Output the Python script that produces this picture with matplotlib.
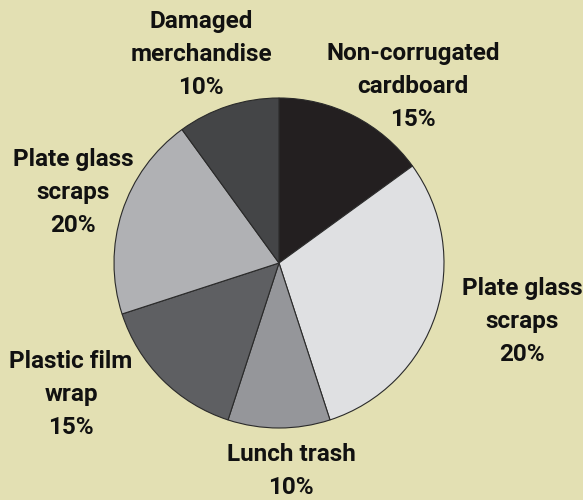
import matplotlib
matplotlib.use('Agg')
import matplotlib.pyplot as plt

# ── Data ─────────────────────────────────────────────────────────────────────
# slice sizes as drawn (the right-hand slice is drawn at ~30% though labelled 20%)
categories = ["Non-corrugated\ncardboard", "Plate glass\nscraps", "Lunch trash",
              "Plastic film\nwrap", "Plate glass\nscraps", "Damaged\nmerchandise"]
sizes = [15, 30, 10, 15, 20, 10]
pct_labels = ["15%", "20%", "10%", "15%", "20%", "10%"]

colors = ["#231F20", "#DFE0E2", "#95969A", "#5E5F62", "#B0B1B4", "#444547"]
BG = "#E3E0B3"

# label anchors (centre x, last-line baseline y) in pixels from top-left
label_px = [(413, 126), (522, 361), (291, 494),
            (71, 434), (73, 232), (201, 94)]

# ── Figure ───────────────────────────────────────────────────────────────────
W, H = 583, 500
fig = plt.figure(figsize=(W / 100, H / 100), dpi=100, facecolor=BG)
ax = fig.add_axes([0, 0, 1, 1])
ax.set_facecolor(BG)

R_PX = 165.0
CX, CY = 279.0, 263.0
ax.pie(sizes, colors=colors, startangle=90, counterclock=False, radius=1.0,
       wedgeprops=dict(edgecolor="#2A2A2A", linewidth=0.8))

ax.set_xlim(-CX / R_PX, (W - CX) / R_PX)
ax.set_ylim(-(H - CY) / R_PX, CY / R_PX)
ax.set_aspect('auto')
ax.axis('off')

for name, pct, (px, py) in zip(categories, pct_labels, label_px):
    ax.text((px - CX) / R_PX, (CY - py) / R_PX, name + "\n" + pct,
            ha='center', va='baseline', multialignment='center',
            fontsize=17.5, fontweight='bold', linespacing=1.55,
            family=['Roboto', 'DejaVu Sans'], color="#111111")

fig.savefig("out.png", dpi=100, facecolor=BG)
